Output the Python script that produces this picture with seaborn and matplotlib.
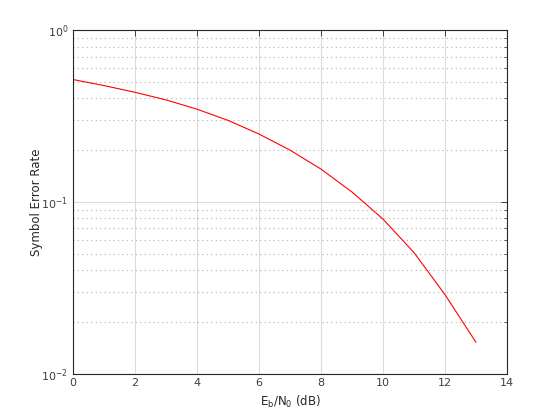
import numpy as np
import pandas as pd
import matplotlib
matplotlib.use("Agg")
import matplotlib.pyplot as plt
import seaborn as sns
from matplotlib.ticker import LogLocator, NullFormatter

# Data
ebn0_db = [0, 1, 2, 3, 4, 5, 6, 7, 8, 9, 10, 11, 12, 13]
ser = [0.515, 0.475, 0.434, 0.392, 0.346, 0.298, 0.248, 0.200,
       0.155, 0.114, 0.0793, 0.0506, 0.0288, 0.0152]

df = pd.DataFrame({"EbN0": ebn0_db, "SER": ser})

sns.set_style("white")
plt.rcParams["font.family"] = ["DejaVu Sans"]

fig = plt.figure(figsize=(5.6, 4.2), dpi=100)
ax = fig.add_axes([0.1304, 0.1105, 0.775, 0.818])

sns.lineplot(data=df, x="EbN0", y="SER", ax=ax, color="red", linewidth=0.8)

ax.set_yscale("log")
ax.set_xlim(0, 14)
ax.set_ylim(1e-2, 1e0)
ax.set_xticks(range(0, 15, 2))
ax.yaxis.set_major_locator(LogLocator(base=10, numticks=10))
ax.yaxis.set_minor_locator(LogLocator(base=10, subs=np.arange(2, 10), numticks=10))
ax.yaxis.set_minor_formatter(NullFormatter())

# grid: solid major, dotted minor on y
ax.grid(True, which="major", axis="both", color="#dcdcdc", linewidth=0.8, linestyle="-")
ax.grid(True, which="minor", axis="y", color="#b0b0b0", linewidth=0.8, linestyle=(0, (1, 3)))
ax.set_axisbelow(True)

for s in ax.spines.values():
    s.set_color("#262626")
    s.set_linewidth(0.8)

ax.tick_params(which="both", direction="in", top=True, right=True,
               colors="#262626", labelcolor="#404040", labelsize=8)
ax.tick_params(which="major", length=4, width=0.6)
ax.tick_params(which="minor", length=2, width=0.5)

ax.set_xlabel(r"E$_\mathregular{b}$/N$_\mathregular{0}$ (dB)", fontsize=8.5, color="#262626")
ax.set_ylabel("Symbol Error Rate", fontsize=8.5, color="#262626", labelpad=-1)

fig.savefig("out.png", dpi=100)
